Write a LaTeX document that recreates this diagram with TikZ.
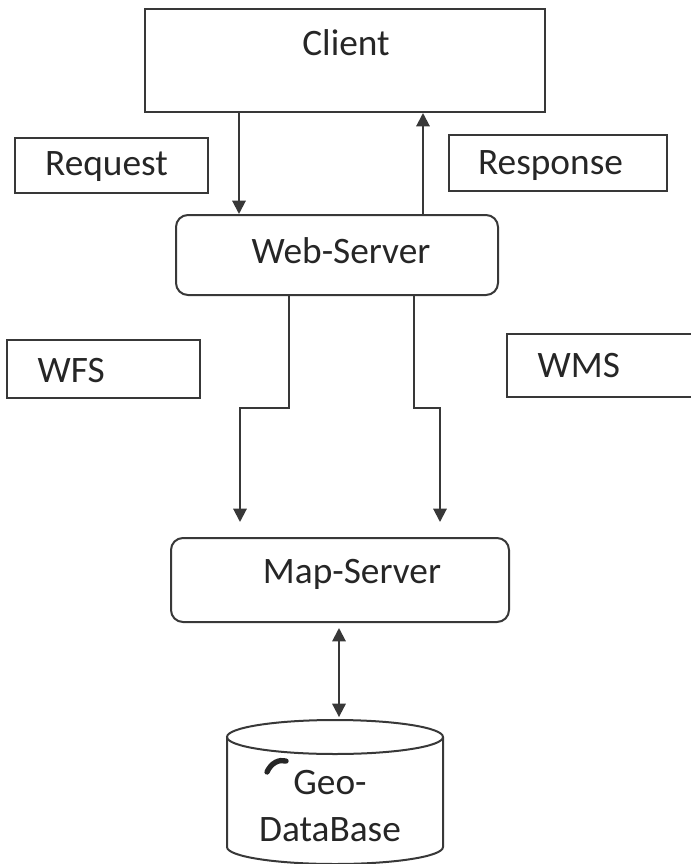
\documentclass[tikz,border=0pt]{standalone}
\usepackage{fontspec}
\setmainfont{Carlito}
\usetikzlibrary{arrows.meta,calc}
\begin{document}
\begin{tikzpicture}[x=0.75pt,y=-0.75pt,
  every node/.style={font=\fontsize{28}{35}\selectfont, text=black!85},
  boxr/.style={draw=black!78, line width=1.5pt, inner sep=0pt},
  rbox/.style={boxr, rounded corners=9pt},
  arr/.style={draw=black!78, line width=1.5pt, -{Triangle[length=10pt,width=10pt]}},
]
\useasboundingbox (0,0) rectangle (690,864);

% Boxes
\node[boxr, minimum width=300pt, minimum height=77.25pt] (client) at (345,60.5) {};
\node (clienttext) at (346,43) {Client};
\node[boxr, minimum width=144.75pt, minimum height=41.25pt] (request) at (111.5,165.5) {};
\node (requesttext) at (106.5,167) {Request};
\node[boxr, minimum width=163.5pt, minimum height=42pt] (response) at (558,163) {};
\node (responsetext) at (550.5,166) {Response};
\node[rbox, minimum width=241.5pt, minimum height=60pt] (web) at (337,255) {};
\node (webtext) at (341,251) {Web-Server};

\node[boxr, minimum width=144.75pt, minimum height=43.5pt] (wfs) at (103.5,369) {};
\node[anchor=west] (wfstext) at (33,371) {WFS};
\coordinate (wmsA) at (700,334);
\coordinate (wmsB) at (700,397);
\draw[draw=black!78, line width=1.5pt] (wmsA) -- (507,334) -- (507,397) -- (wmsB);
\node[anchor=west] (wmstext) at (533,366) {WMS};

\node[rbox, minimum width=253.5pt, minimum height=63pt] (map) at (340,580) {};
\node (maptext) at (352,574) {Map-Server};

% Database cylinder
\node[inner sep=0pt, minimum width=162pt, minimum height=108pt] (db) at (335,792) {};
\draw[draw=black!78, line width=1.5pt] (227,737) -- (227,847)
  arc[start angle=180, end angle=360, x radius=81pt, y radius=12.75pt] -- (443,737);
\draw[draw=black!78, line width=1.5pt] (335,737) ellipse [x radius=81pt, y radius=12.75pt];
\node[align=center] (dbtext) at (330,806) {Geo-\\DataBase};
\draw[line width=4pt, line cap=round, black!85] (267,772) .. controls (271,763) and (279,759) .. (286,761);

% Connectors
\draw[arr] (239,0 |- client.south) -- (239,0 |- web.north);
\draw[arr] (423,0 |- web.north) -- (423,0 |- client.south);
\draw[arr, shorten >=11.25pt] (289,0 |- web.south) -- (289,408) -- (240,408) -- (240,0 |- map.north);
\draw[arr, shorten >=11.25pt] (414,0 |- web.south) -- (414,408) -- (440,408) -- (440,0 |- map.north);
\draw[arr, {Triangle[length=10pt,width=10pt]}-{Triangle[length=10pt,width=10pt]}, shorten <=3.75pt, shorten >=2pt]
  (339,0 |- map.south) -- (339,0 |- db.north);
\end{tikzpicture}
\end{document}
